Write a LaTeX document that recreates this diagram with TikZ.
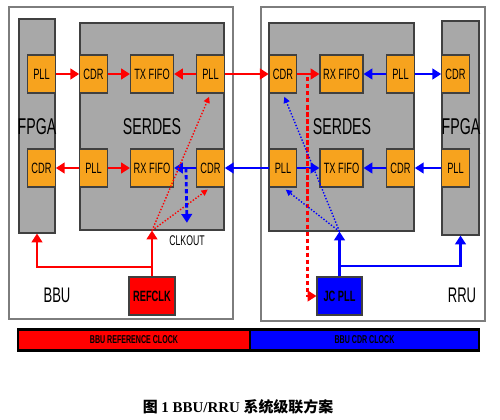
\documentclass[tikz,border=0pt]{standalone}
\usepackage{fontspec}
\usepackage{tikz}
\usetikzlibrary{arrows.meta}
\setmainfont{Liberation Serif}
\newfontfamily\figsf[FakeStretch=0.62]{Liberation Sans}
\newfontfamily\cjk{Noto Sans CJK SC}
\definecolor{boxorange}{RGB}{247,163,30}
\definecolor{areagray}{RGB}{168,168,168}
\definecolor{framegray}{RGB}{125,125,125}

\begin{document}
\begin{tikzpicture}[x=0.02cm,y=-0.02cm,
	unit/.style={draw=black!75, line width=0.6pt, fill=boxorange, minimum width=0.55cm, minimum height=0.76cm, inner sep=0pt, font=\figsf\fontsize{8.5}{8}\selectfont},
	fifo/.style={unit, minimum width=0.86cm},
	area/.style={draw=black!75, line width=0.6pt, fill=areagray, inner sep=0pt},
	arealabel/.style={font=\figsf\fontsize{13}{13}\selectfont},
	clk/.style={draw=black!75, line width=0.6pt, minimum width=0.92cm, minimum height=0.76cm, inner sep=0pt, font=\figsf\bfseries\fontsize{8.5}{8}\selectfont},
	bar/.style={draw=black, line width=1.2pt, minimum height=0.42cm, inner sep=0pt, font=\figsf\bfseries\fontsize{6.5}{6}\selectfont},
	frame/.style={draw=framegray, line width=1pt},
	redarr/.style={red, line width=1.6pt, -{Triangle[length=5pt,width=6pt]}},
	bluearr/.style={blue, line width=1.6pt, -{Triangle[length=5pt,width=6pt]}},
	reddash/.style={redarr, dash pattern=on 2.5pt off 1.5pt},
	bluedash/.style={bluearr, dash pattern=on 2.5pt off 1.5pt},
	thindot/.style={line width=0.8pt, densely dotted, -{Triangle[length=3.5pt,width=3.5pt]}, shorten >=2pt}]

	\useasboundingbox (0,0) rectangle (500,419);

	% BBU and RRU frames
	\draw[frame] (9,7) rectangle (233,319);
	\draw[frame] (261,7) rectangle (485,321);
	\node[font=\figsf\fontsize{12}{12}\selectfont] (bbu) at (57,295) {BBU};
	\node[font=\figsf\fontsize{12}{12}\selectfont] (rru) at (462,295) {RRU};

	% grey blocks
	\node[area, minimum width=0.72cm, minimum height=4.28cm] (lfpga) at (37,126) {};
	\node[area, minimum width=2.88cm, minimum height=4.14cm] (lserdes) at (152,126.5) {};
	\node[area, minimum width=2.9cm, minimum height=4.16cm] (rserdes) at (341.5,127) {};
	\node[area, minimum width=0.74cm, minimum height=4.28cm] (rfpga) at (460.5,128) {};
	\node[arealabel] (lfpgalab) at (37,127) {FPGA};
	\node[arealabel] (lserdeslab) at (152,127) {SERDES};
	\node[arealabel] (rserdeslab) at (342,127) {SERDES};
	\node[arealabel] (rfpgalab) at (461,127) {FPGA};

	% BBU units
	\node[unit] (lfpll) at (41.5,74) {PLL};
	\node[unit] (lfcdr) at (41.5,168) {CDR};
	\node[unit] (lcdrA) at (93.5,74) {CDR};
	\node[fifo] (ltxfifo) at (152,74) {TX FIFO};
	\node[unit] (lpllA) at (210.5,74) {PLL};
	\node[unit] (lpllB) at (93.5,168) {PLL};
	\node[fifo] (lrxfifo) at (152,168) {RX FIFO};
	\node[unit] (lcdrB) at (210.5,168) {CDR};

	% RRU units
	\node[unit] (rcdrA) at (283,74) {CDR};
	\node[fifo] (rrxfifo) at (341.5,74) {RX FIFO};
	\node[unit] (rpllA) at (400.5,74) {PLL};
	\node[unit] (rfcdr) at (455.5,74) {CDR};
	\node[unit] (rpllB) at (283,168) {PLL};
	\node[fifo] (rtxfifo) at (341.5,168) {TX FIFO};
	\node[unit] (rcdrB) at (400.5,168) {CDR};
	\node[unit] (rfpll) at (455.5,168) {PLL};

	\node[clk, fill=red] (refclk) at (152,296) {REFCLK};
	\node[clk, fill=blue, minimum width=0.9cm] (jcpll) at (339.5,296) {JC PLL};
	\node[font=\figsf\fontsize{8}{8}\selectfont] (clkout) at (187,241) {CLKOUT};

	% data path
	\draw[redarr] (lfpll) -- (lcdrA);
	\draw[redarr] (lcdrA) -- (ltxfifo);
	\draw[redarr] (lpllA) -- (ltxfifo);
	\draw[redarr] (lpllA) -- (rcdrA);
	\draw[redarr] (rcdrA) -- (rrxfifo);
	\draw[bluearr] (rpllA) -- (rrxfifo);
	\draw[bluearr] (rpllA) -- (rfcdr);
	\draw[bluearr] (rfpll) -- (rcdrB);
	\draw[bluearr] (rcdrB) -- (rtxfifo);
	\draw[bluearr] (rpllB) -- (rtxfifo);
	\draw[bluearr] (rpllB) -- (lcdrB);
	\draw[bluearr] (lcdrB) -- (lrxfifo);
	\draw[redarr] (lpllB) -- (lrxfifo);
	\draw[redarr] (lpllB) -- (lfcdr);

	% reference clock
	\coordinate (refin) at (refclk |- lserdes.south);
	\coordinate (refj) at (152,267);
	\draw[redarr] (refclk) -- (refin);
	\draw[redarr] (refj) -| (lfpga.south);
	\draw[thindot, red] (refin) -- (lpllA.south);
	\draw[thindot, red] (refin) -- (lcdrB.south);
	\coordinate (clktap) at (186,168);
	\draw[bluedash, shorten >=4pt] (clktap) -- (clkout.north);

	% recovered clock
	\coordinate (rtap) at (307.5,77);
	\draw[reddash] (rtap) |- (jcpll.west);
	\coordinate (jcin) at (jcpll |- rserdes.south);
	\coordinate (jcj) at (339.5,266);
	\draw[bluearr] (jcpll) -- (jcin);
	\draw[bluearr] (jcj) -| (rfpga.south);
	\draw[thindot, blue] (jcin) -- (rcdrA.south);
	\draw[thindot, blue] (jcin) -- (rpllB.south);

	\node[bar, fill=red, minimum width=4.64cm] (refbar) at (134,340) {BBU REFERENCE CLOCK};
	\node[bar, fill=blue, minimum width=4.58cm] (cdrbar) at (364.5,340) {BBU CDR CLOCK};

	\node[font=\fontsize{8.5}{8}\selectfont\bfseries] (caption) at (238,407) {{\cjk 图} 1 BBU/RRU {\cjk 系统级联方案}};
\end{tikzpicture}
\end{document}
